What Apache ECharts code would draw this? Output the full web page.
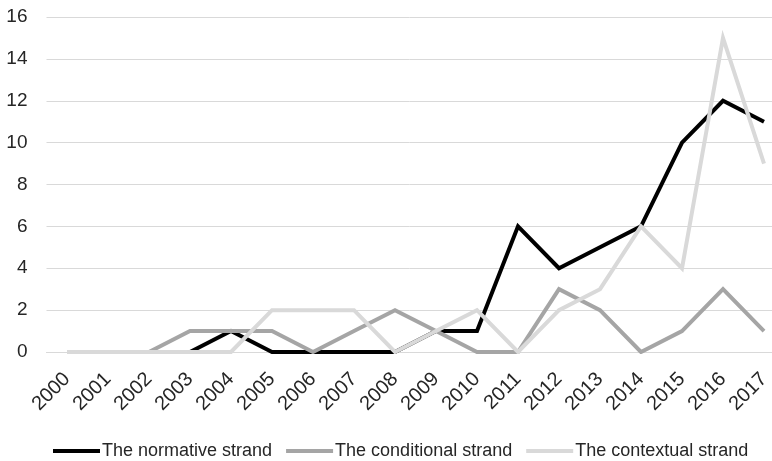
<!DOCTYPE html>
<html><head><meta charset="utf-8">
<script src="https://cdn.jsdelivr.net/npm/echarts@6/dist/echarts.min.js"></script>
<style>html,body{margin:0;padding:0;background:#fff}#c{width:772px;height:461px}</style>
</head><body><div id="c"></div>
<script>
var years = ['2000','2001','2002','2003','2004','2005','2006','2007','2008','2009','2010','2011','2012','2013','2014','2015','2016','2017'];
var normative = [0,0,0,0,1,0,0,0,0,1,1,6,4,5,6,10,12,11];
var conditional = [0,0,0,1,1,1,0,1,2,1,0,0,3,2,0,1,3,1];
var contextual = [0,0,0,0,0,2,2,2,0,1,2,0,2,3,6,4,15,9];
var yTicks = {min:0, max:16, interval:2};
var font = 'Liberation Sans, sans-serif';
var chart = echarts.init(document.getElementById('c'));
function s(name, data, color){
  return {name:name, type:'line', data:data, symbol:'none', smooth:false,
    lineStyle:{color:color, width:4, join:'miter'}, itemStyle:{color:color}};
}
chart.setOption({
  animation:false,
  grid:{left:46.5, width:738, top:17, bottom:109, containLabel:false, outerBoundsMode:'none'},
  legend:{top:437, left:48, itemWidth:47, itemHeight:4, itemGap:14, icon:'rect',
    textStyle:{fontFamily:font, fontSize:18, color:'#262626', padding:[0,0,0,-3]},
    data:['The normative strand','The conditional strand','The contextual strand']},
  xAxis:{type:'category', data:years, boundaryGap:true,
    axisLine:{show:true, lineStyle:{color:'#d9d9d9', width:1}},
    axisTick:{show:false},
    axisLabel:{rotate:45, fontFamily:font, fontSize:20, color:'#262626', margin:24, interval:0}},
  yAxis:{type:'value', min:yTicks.min, max:yTicks.max, interval:yTicks.interval,
    axisLine:{show:false}, axisTick:{show:false},
    splitLine:{lineStyle:{color:'#d9d9d9', width:1}},
    axisLabel:{fontFamily:font, fontSize:19, color:'#262626', margin:19}},
  series:[
    s('The normative strand', normative, '#000000'),
    s('The conditional strand', conditional, '#a5a5a5'),
    s('The contextual strand', contextual, '#d9d9d9')
  ]
});
</script></body></html>
